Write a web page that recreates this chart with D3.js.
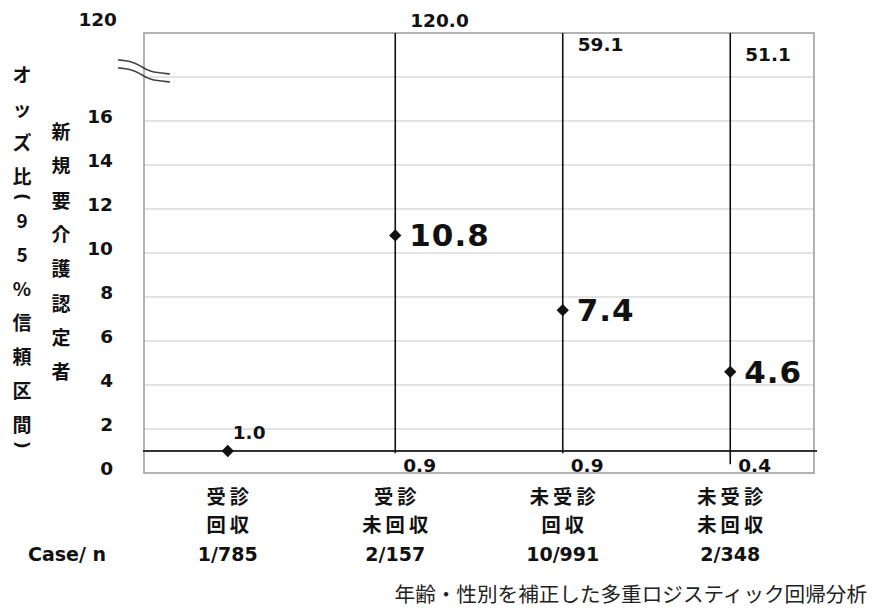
<!DOCTYPE html>
<html>
<head>
<meta charset="utf-8">
<script src="https://cdn.jsdelivr.net/npm/d3@7"></script>
<style>
  body { margin: 0; background: #fff; }
  svg { display: block; }
</style>
</head>
<body>
<svg id="chart" width="880" height="614"></svg>
<script>
// Groups: check-up attended / not, questionnaire returned / not
const categories = [["受診", "回収"], ["受診", "未回収"], ["未受診", "回収"], ["未受診", "未回収"]];
const caseCounts = ["1/785", "2/157", "10/991", "2/348"];
const oddsRatio = [1.0, 10.8, 7.4, 4.6];
const ciLower = [null, 0.9, 0.9, 0.4];
const ciUpper = [null, 120.0, 59.1, 51.1];
const tickValues = [0, 2, 4, 6, 8, 10, 12, 14, 16, 18, 20];
const tickLabels = ["0", "2", "4", "6", "8", "10", "12", "14", "16", "", "120"];
const yTitle = "オッズ比(95%信頼区間)";
const ySubtitle = "新規要介護認定者";
const caseLabel = "Case/ n";
const footnote = "年齢・性別を補正した多重ロジスティック回帰分析";

const numFont = "'DejaVu Sans', Verdana, sans-serif";
const jpFont = "'Noto Sans CJK JP', sans-serif";

const svg = d3.select("#chart");
const plot = { left: 144, right: 814, top: 33, bottom: 473 };

// The axis is broken above 18: anything larger is drawn at the top edge (labelled 120)
const breakAt = 18, axisTop = 20;
const disp = v => (v > breakAt ? axisTop : v);

const x = d3.scaleBand().domain(d3.range(categories.length)).range([plot.left, plot.right]);
const cx = i => x(i) + x.bandwidth() / 2;
const y = d3.scaleLinear().domain([0, axisTop]).range([plot.bottom, plot.top]);

// horizontal grid
svg.append("g").selectAll("line")
  .data(tickValues.filter(t => t > 0 && t < axisTop))
  .join("line")
  .attr("x1", plot.left).attr("x2", plot.right)
  .attr("y1", d => y(d)).attr("y2", d => y(d))
  .attr("stroke", "#c8c8c8").attr("stroke-width", 1.2);

// plot frame
svg.append("rect")
  .attr("x", plot.left).attr("y", plot.top)
  .attr("width", plot.right - plot.left).attr("height", plot.bottom - plot.top)
  .attr("fill", "none").attr("stroke", "#a0a0a0").attr("stroke-width", 1.6);

// reference line at OR = 1
svg.append("line")
  .attr("x1", plot.left - 1).attr("x2", plot.right + 3)
  .attr("y1", y(1)).attr("y2", y(1))
  .attr("stroke", "#333").attr("stroke-width", 2);

// y axis tick labels
const yAxis = svg.append("g")
  .attr("transform", `translate(${plot.left},0)`)
  .call(d3.axisLeft(y).tickValues(tickValues).tickFormat((d, i) => tickLabels[i]).tickSize(0).tickPadding(31));
yAxis.select(".domain").remove();
yAxis.selectAll("text")
  .attr("font-family", numFont).attr("font-weight", "bold").attr("font-size", 18.5)
  .attr("fill", "#111")
  .attr("dy", (d) => d === axisTop ? "-0.4em" : "0.1em")
  .attr("dx", (d) => d === axisTop ? 4 : 0);

// axis break marks
const breakY = y(18.5);
const breakShape = [[-26, -6], [-13, -5], [-3, 0], [5, 6], [26, 8]];
const breakLine = d3.line().curve(d3.curveBasis)
  .x(p => plot.left + p[0]).y(p => p[1]);
[0, 8].forEach(off => {
  svg.append("path")
    .attr("d", breakLine(breakShape.map(p => [p[0], breakY + p[1] + off])))
    .attr("fill", "none").attr("stroke", "#444").attr("stroke-width", 1.6);
});

// confidence interval lines
const ci = d3.range(categories.length).filter(i => ciLower[i] != null);
svg.append("g").selectAll("line")
  .data(ci).join("line")
  .attr("x1", cx).attr("x2", cx)
  .attr("y1", i => y(disp(ciLower[i]))).attr("y2", i => y(disp(ciUpper[i])))
  .attr("stroke", "#111").attr("stroke-width", 1.6);

// upper bound labels
const upperDy = [-6, 18, 28];
svg.append("g").selectAll("text")
  .data(ci).join("text")
  .attr("x", i => cx(i) + 15)
  .attr("y", (i, k) => plot.top + upperDy[k])
  .attr("font-family", numFont).attr("font-weight", "bold").attr("font-size", 18.5)
  .attr("fill", "#111")
  .text(i => ciUpper[i].toFixed(1));

// lower bound labels
svg.append("g").selectAll("text")
  .data(ci).join("text")
  .attr("x", i => cx(i) + 8)
  .attr("y", plot.bottom - 1)
  .attr("font-family", numFont).attr("font-weight", "bold").attr("font-size", 18.5)
  .attr("fill", "#111")
  .text(i => ciLower[i].toFixed(1));

// point estimates
const diamond = d3.symbol().type(d3.symbolSquare).size(76);
svg.append("g").selectAll("path")
  .data(oddsRatio).join("path")
  .attr("d", diamond)
  .attr("transform", (d, i) => `translate(${cx(i)},${y(d)}) rotate(45)`)
  .attr("fill", "#111");

// value labels: the reference group small and above, others large to the right
svg.append("g").selectAll("text")
  .data(oddsRatio).join("text")
  .attr("x", (d, i) => cx(i) + (i === 0 ? 5 : 14))
  .attr("y", (d, i) => y(d) + (i === 0 ? -12 : 11))
  .attr("font-family", numFont).attr("font-weight", "bold")
  .attr("font-size", (d, i) => i === 0 ? 18.5 : 31)
  .attr("letter-spacing", (d, i) => i === 0 ? 0 : 1)
  .attr("fill", "#111")
  .text(d => d.toFixed(1));

// category labels, two lines each
const catSpacing = 4;
svg.append("g").selectAll("text")
  .data(categories).join("text")
  .attr("text-anchor", "middle")
  .attr("font-family", jpFont).attr("font-weight", "bold").attr("font-size", 19.3)
  .attr("letter-spacing", catSpacing)
  .attr("fill", "#111")
  .selectAll("tspan")
  .data((d, i) => d.map(s => ({ s, i })))
  .join("tspan")
  .attr("x", d => cx(d.i) + catSpacing / 2)
  .attr("y", (d, j) => 504 + j * 28)
  .text(d => d.s);

// case counts
svg.append("g").selectAll("text")
  .data(caseCounts).join("text")
  .attr("x", (d, i) => cx(i)).attr("y", 561)
  .attr("text-anchor", "middle")
  .attr("font-family", numFont).attr("font-weight", "bold").attr("font-size", 19)
  .attr("fill", "#111")
  .text(d => d);
svg.append("text")
  .attr("x", 28).attr("y", 561)
  .attr("font-family", numFont).attr("font-weight", "bold").attr("font-size", 19)
  .attr("fill", "#111")
  .text(caseLabel);

// vertical y-axis titles, one glyph per line; parentheses turned to lie across the column
function verticalText(str, xPos, yStart, step, parenStep) {
  const chars = Array.from(str);
  const isParen = c => c === "(" || c === ")";
  let yy = yStart;
  const pos = chars.map((c, k) => {
    if (k > 0) yy += (isParen(c) || isParen(chars[k - 1])) ? parenStep : step;
    return yy;
  });
  const t = svg.append("text")
    .attr("text-anchor", "middle").attr("dominant-baseline", "central")
    .attr("font-family", jpFont).attr("font-weight", "bold").attr("font-size", 19)
    .attr("fill", "#111");
  chars.forEach((c, k) => {
    if (isParen(c)) return;
    t.append("tspan").attr("x", xPos).attr("y", pos[k]).text(c);
  });
  chars.forEach((c, k) => {
    if (!isParen(c)) return;
    svg.append("text")
      .attr("transform", `translate(${xPos},${pos[k]}) rotate(90)`)
      .attr("text-anchor", "middle").attr("dominant-baseline", "central")
      .attr("font-family", numFont).attr("font-weight", "bold").attr("font-size", 17)
      .attr("fill", "#111")
      .text(c);
  });
}
verticalText(yTitle, 22, 73, 34, 22);
verticalText(ySubtitle, 61, 130, 34.3, 34.3);

// footnote
svg.append("text")
  .attr("x", 867).attr("y", 602)
  .attr("text-anchor", "end")
  .attr("font-family", jpFont).attr("font-size", 20.6)
  .attr("fill", "#222")
  .text(footnote);
</script>
</body>
</html>
